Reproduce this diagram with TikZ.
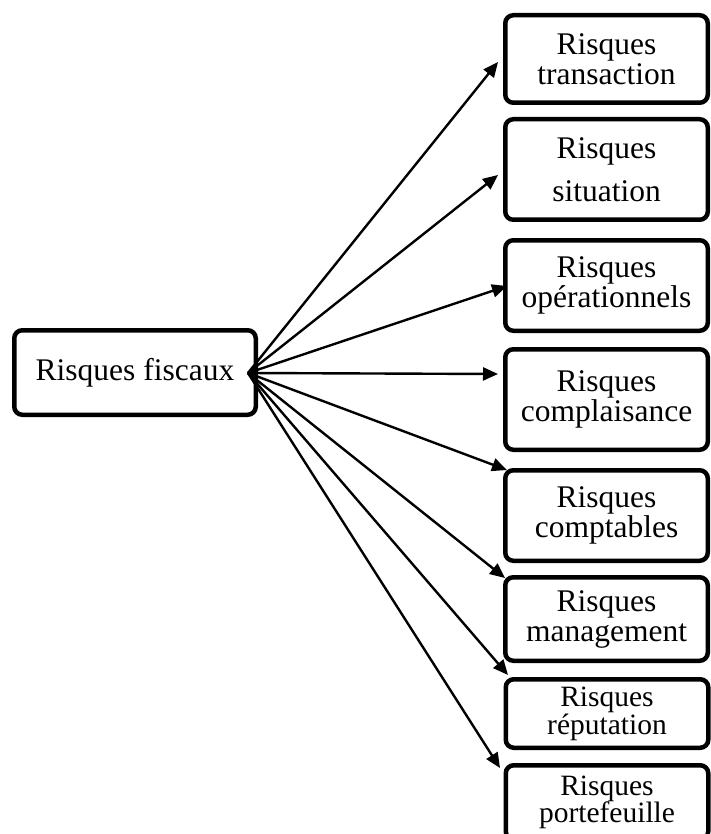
\documentclass[tikz,border=0pt]{standalone}
\usepackage{fontspec}
\setmainfont{Liberation Serif}
\usetikzlibrary{arrows.meta}
\begin{document}
\begin{tikzpicture}[x=1pt,y=-1pt,
  rbox/.style={draw=black, line width=4.5pt, rounded corners=8pt, fill=white,
    align=center, inner sep=0pt, outer sep=0pt, minimum width=202.5pt},
  big/.style={font=\fontsize{31.5}{30}\selectfont},
  small/.style={font=\fontsize{29.5}{28}\selectfont},
  conn/.style={line width=2.4pt, -{Triangle[length=15pt,width=13pt]}}]
\useasboundingbox (0,0) rectangle (711,834);
\begin{scope}
\clip (0,0) rectangle (711,834);
\node[rbox, big, minimum width=241.5pt, minimum height=84.5pt] (c) at (135,372.5) {Risques fiscaux};
\node[rbox, big, minimum height=87.5pt] (b1) at (606.5,59) {Risques\\transaction};
\node[rbox, font=\fontsize{31.5}{43}\selectfont, minimum height=100.5pt] (b2) at (606.5,169.5) {Risques\\situation};
\node[rbox, big, minimum height=90.5pt] (b3) at (606.5,285.5) {Risques\\opérationnels};
\node[rbox, big, minimum height=100.5pt] (b4) at (606.5,399.5) {Risques\\complaisance};
\node[rbox, big, minimum height=90.5pt] (b5) at (606.5,515.5) {Risques\\comptables};
\node[rbox, big, minimum height=83.5pt] (b6) at (606.5,619) {Risques\\management};
\node[rbox, small, minimum height=68.5pt] (b7) at (607,713.5) {Risques\\réputation};
\node[rbox, small, minimum height=74pt, anchor=north] (b8) at (607,765.25) {Risques\\[-1pt]portefeuille};
\end{scope}
\coordinate (o) at (248,373);
\coordinate (t1) at (498,62);
\coordinate (t2) at (498,175);
\coordinate (t3) at (507,286);
\coordinate (t4) at (498,374);
\coordinate (t5) at (507,470);
\coordinate (t6) at (505,578);
\coordinate (t7) at (508,675);
\coordinate (t8) at (500,768);
\foreach \t in {t1,t2,t3,t4,t5,t6,t7,t8}
  \draw[conn] (o) -- (\t);
\end{tikzpicture}
\end{document}
